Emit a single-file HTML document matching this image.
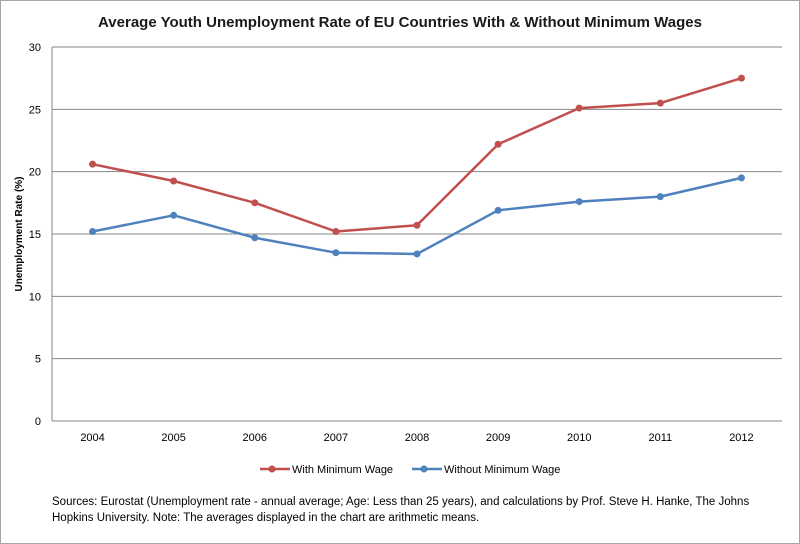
<!DOCTYPE html>
<html><head><meta charset="utf-8"><style>
body{margin:0;background:#fff;}
svg{display:block;font-family:"Liberation Sans",Arial,sans-serif;}
</style></head><body>
<svg id="chart" width="800" height="544">
<rect x="0.5" y="0.5" width="799" height="543" fill="#fff" stroke="#a6a6a6"/>
<text x="400" y="27" text-anchor="middle" font-size="15" font-weight="bold" fill="#1a1a1a">Average Youth Unemployment Rate of EU Countries With &amp; Without Minimum Wages</text>
<text transform="translate(22,234) rotate(-90)" text-anchor="middle" font-size="10" font-weight="bold">Unemployment Rate (%)</text>
<g id="grid"></g><g id="series"></g>
<g>
<g><line x1="260" y1="469" x2="290" y2="469" stroke="#c0504d" stroke-width="2.5"/><circle cx="272" cy="469" r="3.5" fill="#c0504d"/><text x="292" y="473" font-size="11">With Minimum Wage</text></g>
<g><line x1="412" y1="469" x2="442" y2="469" stroke="#4f81bd" stroke-width="2.5"/><circle cx="424" cy="469" r="3.5" fill="#4f81bd"/><text x="444" y="473" font-size="11">Without Minimum Wage</text></g>
</g>
<text x="52" y="505" font-size="11.5">Sources: Eurostat (Unemployment rate - annual average; Age: Less than 25 years), and calculations by Prof. Steve H. Hanke, The Johns</text>
<text x="52" y="521" font-size="11.5">Hopkins University. Note: The averages displayed in the chart are arithmetic means.</text>
</svg>
<script>
const years=["2004","2005","2006","2007","2008","2009","2010","2011","2012"];
const withMin=[20.6,19.25,17.5,15.2,15.7,22.2,25.1,25.5,27.5];
const withoutMin=[15.2,16.5,14.7,13.5,13.4,16.9,17.6,18.0,19.5];
const yTicks=[0,5,10,15,20,25,30];
const NS="http://www.w3.org/2000/svg";
const L=52,R=782,T=47,B=421;
const step=(R-L)/years.length;
const x=i=>L+step*(i+0.5);
const y=v=>B-(v/30)*(B-T);
function mk(tag,attrs,parent,txt){const e=document.createElementNS(NS,tag);for(const k in attrs)e.setAttribute(k,attrs[k]);if(txt!==undefined)e.textContent=txt;parent.appendChild(e);return e;}
const g=document.getElementById('grid');
yTicks.forEach(t=>{
 const ln=mk('line',{x1:L,x2:R,y1:y(t),y2:y(t),stroke:t===0?'#868686':'#868686','stroke-width':1},g);
 
 
 const tx=mk('text',{x:L-11,y:y(t)+4,'text-anchor':'end','font-size':11},g,String(t));
 
 
});
const ax=mk('line',{x1:L,x2:L,y1:T,y2:B,stroke:'#868686'},g);


years.forEach((yr,i)=>{
 const tx=mk('text',{x:x(i),y:441,'text-anchor':'middle','font-size':11},g,yr);
 
 
});
const s=document.getElementById('series');
[[withMin,'#c0504d','with-minimum-wage'],[withoutMin,'#4f81bd','without-minimum-wage']].forEach(([d,c,n])=>{
 const p=mk('polyline',{points:d.map((v,i)=>x(i)+','+y(v)).join(' '),fill:'none',stroke:c,'stroke-width':2.5,'stroke-linejoin':'round'},s);
 
 
 d.forEach((v,i)=>{
  const pt=mk('circle',{cx:x(i),cy:y(v),r:3.5,fill:c},s);
  
  
 });
});
</script>
</body></html>
